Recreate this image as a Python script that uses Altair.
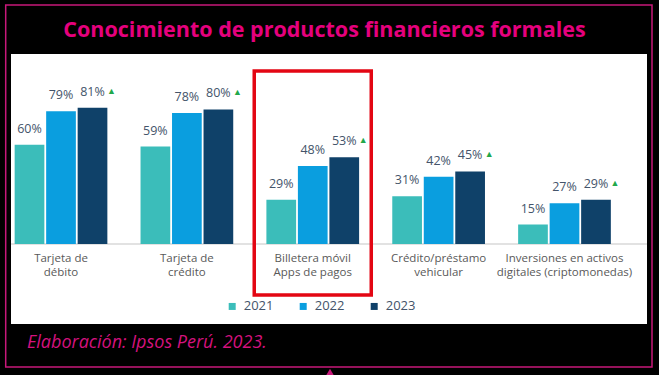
import altair as alt
import pandas as pd

# ---------------- data ----------------
categories = [
    "Tarjeta de|débito",
    "Tarjeta de|crédito",
    "Billetera móvil|Apps de pagos",
    "Crédito/préstamo|vehicular",
    "Inversiones en activos|digitales (criptomonedas)",
]
years = ["2021", "2022", "2023"]
v2021 = [60, 59, 29, 31, 15]
v2022 = [79, 78, 48, 42, 27]
v2023 = [81, 80, 53, 45, 29]
significant_2023 = [True, True, True, True, True]
highlight = categories[2]
colors = ["#3BBDBA", "#0A9EDF", "#0F4169"]
title_text = "Conocimiento de productos financieros formales"
source_text = "Elaboración: Ipsos Perú. 2023."
axis_base = 4  # value at which the bars' baseline sits in the original

rows = []
for i, c in enumerate(categories):
    for y, vals in zip(years, [v2021, v2022, v2023]):
        rows.append({"cat": c, "year": y, "value": vals[i], "base": axis_base,
                     "sig": bool(y == "2023" and significant_2023[i])})
df = pd.DataFrame(rows)

# ---------------- layout ----------------
W, H = 636, 270
FONT = "Open Sans"
PINK = "#E5007D"
PINK_LINE = "#C8187A"
LABEL = "#44546A"

x_enc = alt.X(
    "cat:N", sort=categories,
    scale=alt.Scale(range=[-8.5, 612], paddingInner=0.0703, paddingOuter=0),
    axis=alt.Axis(title=None, domain=False, ticks=False,
                  labelExpr="split(datum.label, '|')", labelAngle=0,
                  labelFont=FONT, labelFontSize=11.5, labelColor="#595959",
                  labelPadding=7, labelLineHeight=14, offset=-79),
)
xoff_enc = alt.XOffset("year:N", sort=years,
                       scale=alt.Scale(paddingInner=0.057, paddingOuter=0.386))
y_scale = alt.Scale(domain=[axis_base, 100], range=[190, 20], nice=False, zero=False)
y_enc = alt.Y("value:Q", scale=y_scale, axis=None)

one = pd.DataFrame({"k": [0]})

border = alt.Chart(one).mark_rect(filled=False, stroke=PINK_LINE, strokeWidth=1.5).encode(
    x=alt.value(-5.3), x2=alt.value(641), y=alt.value(-49), y2=alt.value(313))

title = alt.Chart(one).mark_text(
    text=title_text, font=FONT, fontSize=21.5, fontWeight="bold", color=PINK,
    align="center", baseline="alphabetic").encode(x=alt.value(313.5), y=alt.value(-17.3))

footer = alt.Chart(one).mark_text(
    text=source_text, font=FONT, fontSize=18, fontStyle="italic", fontWeight="normal",
    color="#D4127E", align="left", baseline="alphabetic").encode(
    x=alt.value(16), y=alt.value(294.3))

arrow = alt.Chart(one).mark_point(shape="triangle-up", filled=True, size=60,
                                  color=PINK_LINE, opacity=1).encode(
    x=alt.value(319), y=alt.value(318))

baseline = alt.Chart(pd.DataFrame({"value": [axis_base]})).mark_rule(
    color="#D9D9D9", strokeWidth=1.5).encode(
    x=alt.value(0), x2=alt.value(W), y=y_enc)

bars = alt.Chart(df).mark_bar().encode(
    x=x_enc, xOffset=xoff_enc, y=y_enc, y2="base:Q",
    color=alt.Color("year:N", sort=years,
                    scale=alt.Scale(domain=years, range=colors),
                    legend=alt.Legend(title=None, orient="none", legendX=214.7, legendY=245.7,
                                      direction="horizontal", symbolType="square",
                                      symbolSize=49, symbolStrokeWidth=0,
                                      labelFont=FONT, labelFontSize=13, labelColor=LABEL,
                                      labelOffset=5, columnPadding=23, padding=0)),
)

labels = alt.Chart(df).transform_calculate(
    label="datum.value + '%'"
).mark_text(font=FONT, fontSize=12.5, color=LABEL, baseline="alphabetic", dy=-12).encode(
    x=x_enc, xOffset=xoff_enc, y=y_enc, text="label:N")

sig = alt.Chart(df).transform_filter("datum.sig").mark_text(
    text="▲", fontSize=9, color="#22A84A", baseline="alphabetic", dx=19, dy=-14).encode(
    x=x_enc, xOffset=xoff_enc, y=y_enc)

box = alt.Chart(pd.DataFrame({"cat": [highlight]})).mark_rect(
    filled=False, stroke="#E30613", strokeWidth=3.5).encode(
    x=x_enc, y=alt.value(17), y2=alt.value(241))

chart = alt.layer(border, title, footer, arrow, baseline, bars, labels, sig, box).properties(
    width=W, height=H,
    autosize=alt.AutoSizeParams(type="none"),
    padding={"left": 11, "top": 54, "right": 12, "bottom": 51},
    background="black",
).configure_view(fill="white", strokeWidth=0)

chart.save("out.html", embed_options={"renderer": "svg", "actions": False})
